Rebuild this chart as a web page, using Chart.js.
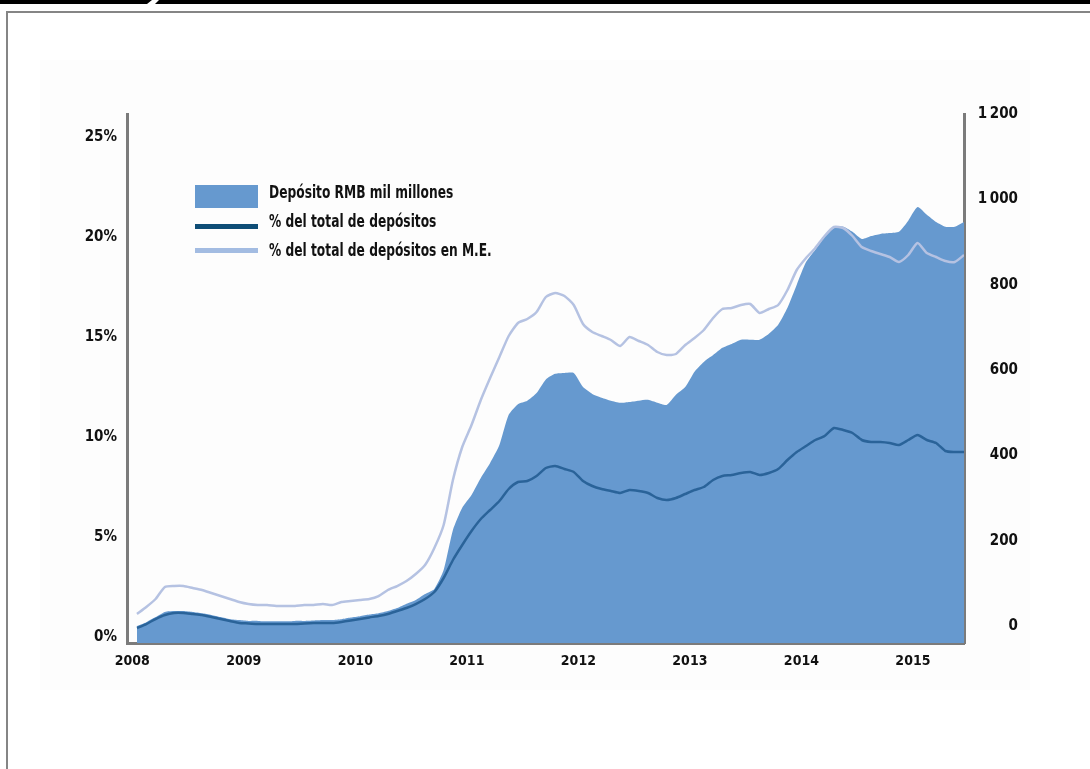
<!DOCTYPE html>
<html>
<head>
<meta charset="utf-8">
<script src="https://cdn.jsdelivr.net/npm/chart.js@4.4.1/dist/chart.umd.min.js"></script>
<style>
  html, body { margin: 0; padding: 0; background: #fff; }
  body { width: 1090px; height: 769px; position: relative; overflow: hidden;
         font-family: "Liberation Sans Narrow", "DejaVu Sans Condensed", "Arial Narrow", sans-serif; }
  .topbar { position: absolute; top: 0; height: 4px; background: #000; }
  #barL { left: 0; width: 152px; clip-path: polygon(0 0, 152px 0, 147px 4px, 0 4px); }
  #barR { left: 155px; width: 935px; clip-path: polygon(4px 0, 935px 0, 935px 4px, 0 4px); }
  #frameTop { position: absolute; left: 6px; top: 11px; width: 1084px; height: 2px; background: #858585; }
  #frameLeft { position: absolute; left: 6px; top: 11px; width: 2px; height: 758px; background: #858585; }
  #shade { position: absolute; left: 40px; top: 60px; width: 990px; height: 630px; background: #fdfdfd; }
  canvas { position: absolute; left: 0; top: 0; }
  .sw { position: absolute; left: 195px; width: 63px; }
  .lg { position: absolute; left: 269px; font-weight: bold; font-size: 17px; color: #111; line-height: 20px;
        white-space: nowrap; transform: scaleX(0.8); transform-origin: 0 50%; }
</style>
</head>
<body>
<div class="topbar" id="barL"></div>
<div class="topbar" id="barR"></div>
<div id="frameTop"></div>
<div id="frameLeft"></div>
<div id="shade"></div>
<canvas id="chart" width="1090" height="769"></canvas>
<div class="sw" style="top:185px;height:23px;background:#6699cf;"></div>
<div class="sw" style="top:224px;height:5px;background:#0e4d76;"></div>
<div class="sw" style="top:248px;height:5px;background:#a3bce2;"></div>
<div class="lg" style="top:182px;">Depósito RMB mil millones</div>
<div class="lg" style="top:211px;">% del total de depósitos</div>
<div class="lg" style="top:240px;">% del total de depósitos en M.E.</div>
<script>
// monthly, Jan 2008 - Jun 2015
const firstYear = 2008;
const years = [2008, 2009, 2010, 2011, 2012, 2013, 2014, 2015];
const leftTicks = [0, 5, 10, 15, 20, 25];
const rightTicks = [0, 200, 400, 600, 800, 1000, 1200];

// Depósito RMB mil millones (eje derecho)
const depositsRmb = [
  0, 9, 21, 33, 35, 35, 33, 30, 26, 21, 16, 14,
  12, 12, 11, 11, 11, 12, 12, 13, 14, 14, 16, 20,
  23, 27, 30, 35, 42, 52, 61, 75, 87, 131, 225, 277,
  307, 347, 382, 424, 495, 520, 528, 546, 578, 591, 593, 593,
  560, 544, 535, 528, 523, 525, 528, 530, 523, 518, 542, 560,
  596, 619, 635, 652, 661, 671, 671, 671, 685, 706, 746, 800,
  853, 882, 912, 933, 936, 924, 907, 914, 919, 921, 924, 950,
  982, 964, 947, 936, 936, 947
];

// % del total de depósitos (eje izquierdo)
const pctTotal = [
  0.45, 0.65, 0.9, 1.1, 1.2, 1.2, 1.15, 1.1, 1.0, 0.9, 0.8, 0.7,
  0.68, 0.65, 0.65, 0.65, 0.65, 0.65, 0.68, 0.7, 0.7, 0.7, 0.75, 0.82,
  0.9, 0.98, 1.05, 1.15, 1.3, 1.45, 1.65, 1.9, 2.25, 2.95, 3.85, 4.6,
  5.3, 5.9, 6.35, 6.8, 7.4, 7.75, 7.8, 8.05, 8.45, 8.55, 8.4, 8.25,
  7.8, 7.55, 7.4, 7.3, 7.2, 7.35, 7.3, 7.2, 6.95, 6.85, 6.95, 7.15,
  7.35, 7.5, 7.85, 8.05, 8.1, 8.2, 8.25, 8.1, 8.2, 8.4, 8.85, 9.25,
  9.55, 9.85, 10.05, 10.45, 10.35, 10.2, 9.85, 9.75, 9.75, 9.7, 9.6, 9.85,
  10.1, 9.85, 9.7, 9.3, 9.25, 9.25
];

// % del total de depósitos en M.E. (eje izquierdo)
const pctFx = [
  1.15, 1.5, 1.9, 2.5, 2.55, 2.55, 2.45, 2.35, 2.2, 2.05, 1.9, 1.75,
  1.65, 1.6, 1.6, 1.55, 1.55, 1.55, 1.6, 1.6, 1.65, 1.6, 1.75, 1.8,
  1.85, 1.9, 2.05, 2.35, 2.55, 2.8, 3.15, 3.6, 4.45, 5.6, 7.85, 9.5,
  10.6, 11.85, 12.95, 14.0, 15.05, 15.7, 15.9, 16.25, 17.0, 17.2, 17.05, 16.6,
  15.65, 15.25, 15.05, 14.85, 14.55, 15.0, 14.8, 14.6, 14.25, 14.1, 14.15, 14.6,
  14.95, 15.35, 15.95, 16.4, 16.45, 16.6, 16.65, 16.2, 16.4, 16.6, 17.35, 18.35,
  18.95, 19.45, 20.05, 20.5, 20.45, 20.05, 19.5, 19.3, 19.15, 19.0, 18.75, 19.1,
  19.7, 19.2, 19.0, 18.8, 18.75, 19.1
];

const monthX = i => firstYear + (i + 0.5) / 12;
const toPoints = arr => arr.map((v, i) => ({ x: monthX(i), y: v }));

const axisGrey = '#7b7b7b';
const tickFamily = '"Liberation Sans Narrow", "DejaVu Sans Condensed", sans-serif';

new Chart(document.getElementById('chart').getContext('2d'), {
  type: 'line',
  data: {
    datasets: [
      {
        label: '% del total de depósitos en M.E.',
        data: toPoints(pctFx),
        yAxisID: 'y',
        borderColor: '#b5c2e2',
        borderWidth: 2.5,
        pointRadius: 0,
        tension: 0.2,
        fill: false,
        order: 1
      },
      {
        label: '% del total de depósitos',
        data: toPoints(pctTotal),
        yAxisID: 'y',
        borderColor: '#2a6399',
        borderWidth: 2.5,
        pointRadius: 0,
        tension: 0.2,
        fill: false,
        order: 2
      },
      {
        label: 'Depósito RMB mil millones',
        data: toPoints(depositsRmb),
        yAxisID: 'y1',
        borderWidth: 0,
        borderColor: 'rgba(0,0,0,0)',
        backgroundColor: '#6699cf',
        pointRadius: 0,
        tension: 0.2,
        fill: 'start',
        order: 3
      }
    ]
  },
  options: {
    responsive: false,
    animation: false,
    devicePixelRatio: 1,
    layout: { padding: { top: 114, left: 60, right: 72, bottom: 86 } },
    plugins: { legend: { display: false }, tooltip: { enabled: false } },
    scales: {
      x: {
        type: 'linear',
        min: 2007.952,
        max: 2015.4583,
        grid: { display: false, drawTicks: false },
        border: { display: true, color: axisGrey, width: 3 },
        afterBuildTicks: s => { s.ticks = years.map(v => ({ value: v })); },
        afterFit: s => { s.height = 40; },
        ticks: { font: { family: tickFamily, weight: 'bold', size: 14 }, color: '#111', padding: 10,
                 maxRotation: 0, autoSkip: false, callback: v => String(v) }
      },
      y: {
        position: 'left',
        min: -0.3,
        max: 26.15,
        grid: { display: false, drawTicks: false },
        border: { display: true, color: axisGrey, width: 3 },
        afterBuildTicks: s => { s.ticks = leftTicks.map(v => ({ value: v })); },
        afterFit: s => { s.width = 67; },
        ticks: { font: { family: tickFamily, weight: 'bold', size: 15 }, color: '#111', padding: 10,
                 callback: v => v + '%' }
      },
      y1: {
        position: 'right',
        min: -39.84,
        max: 1200,
        grid: { display: false, drawTicks: false },
        border: { display: true, color: axisGrey, width: 3 },
        afterBuildTicks: s => { s.ticks = rightTicks.map(v => ({ value: v })); },
        afterFit: s => { s.width = 54; },
        ticks: { font: { family: tickFamily, weight: 'bold', size: 15 }, color: '#111', crossAlign: 'far',
                 callback: v => v >= 1000 ? String(v).replace(/(\d)(\d{3})$/, '$1\u2009$2') : String(v) }
      }
    }
  }
});
</script>
</body>
</html>
